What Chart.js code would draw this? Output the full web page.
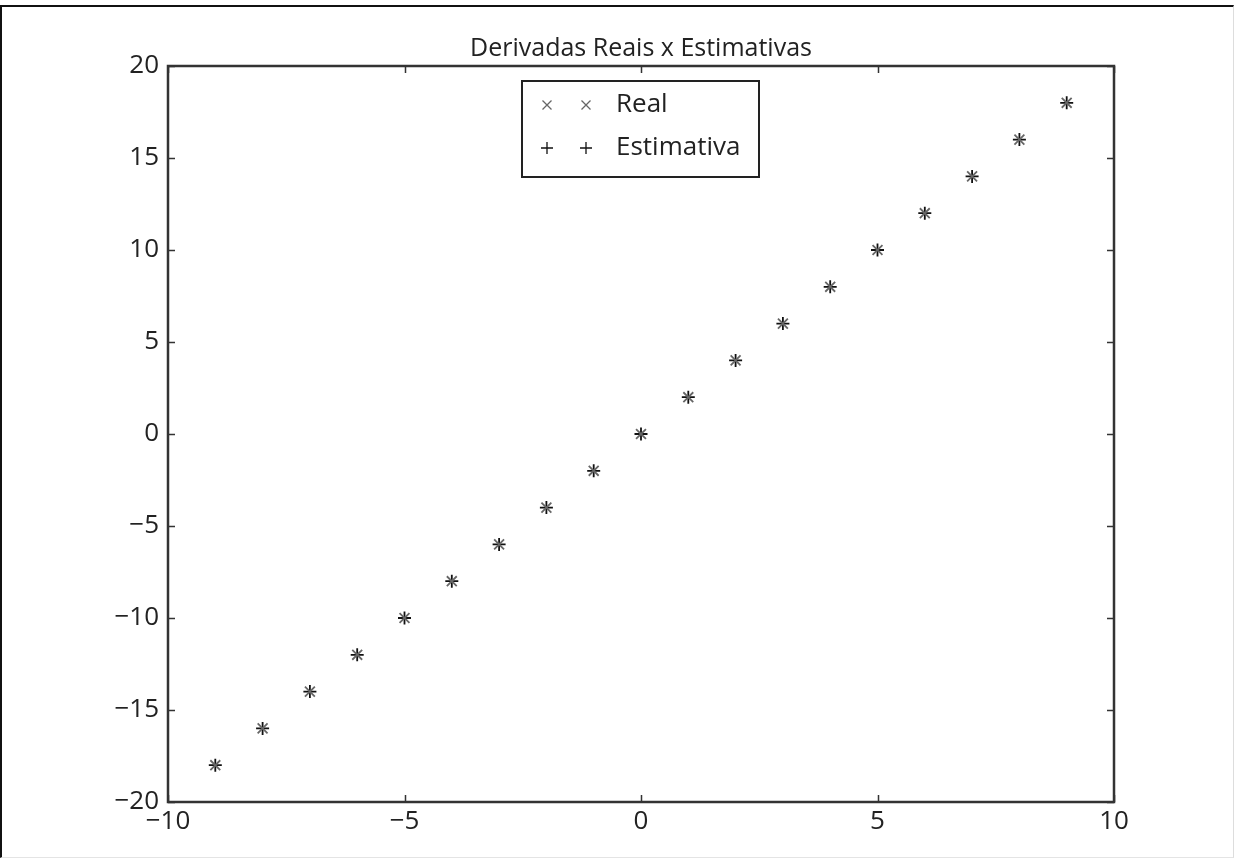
<!DOCTYPE html>
<html>
<head>
<meta charset="utf-8">
<script src="https://cdn.jsdelivr.net/npm/chart.js@4/dist/chart.umd.min.js"></script>
<style>
  html, body { margin: 0; padding: 0; background: #fff; }
  #c { position: absolute; left: 0; top: 0; display: block; }
  #frame { position: absolute; left: 0; top: 5px; width: 1234px; height: 853px; box-sizing: border-box;
           border-top: 2px solid #111; border-left: 2px solid #111; border-right: 1px solid #ddd; border-bottom: 1px solid #e4e4e4;
           pointer-events: none; }
</style>
</head>
<body>
<canvas id="c" width="1234" height="858"></canvas>
<div id="frame"></div>
<script>
const titleText = "Derivadas Reais x Estimativas";
const xValues = [-9, -8, -7, -6, -5, -4, -3, -2, -1, 0, 1, 2, 3, 4, 5, 6, 7, 8, 9];
const realValues = [-18, -16, -14, -12, -10, -8, -6, -4, -2, 0, 2, 4, 6, 8, 10, 12, 14, 16, 18];
const estimativaValues = [-18, -16, -14, -12, -10, -8, -6, -4, -2, 0, 2, 4, 6, 8, 10, 12, 14, 16, 18];
const seriesNames = ["Real", "Estimativa"];
const xTicks = [-10, -5, 0, 5, 10];
const yTicks = [-20, -15, -10, -5, 0, 5, 10, 15, 20];

const FONT = "'Open Sans', 'Noto Sans', sans-serif";
const AXIS = '#333';

const toPts = (xs, ys) => xs.map((x, i) => ({ x: x, y: ys[i] }));
const fmt = v => String(v).replace('-', '\u2212');

const framePlugin = {
  id: 'frame',
  afterDraw(chart) {
    const ctx = chart.ctx, a = chart.chartArea;
    const xs = chart.scales.x, ys = chart.scales.y;
    ctx.save();
    ctx.strokeStyle = AXIS; ctx.lineWidth = 1.5;
    const tl = 7;
    xs.ticks.forEach(t => {
      const px = Math.round(xs.getPixelForValue(t.value)) + 0.5;
      ctx.beginPath();
      ctx.moveTo(px, a.bottom); ctx.lineTo(px, a.bottom - tl);
      ctx.moveTo(px, a.top); ctx.lineTo(px, a.top + tl);
      ctx.stroke();
    });
    ys.ticks.forEach(t => {
      const py = Math.round(ys.getPixelForValue(t.value)) + 0.5;
      ctx.beginPath();
      ctx.moveTo(a.left, py); ctx.lineTo(a.left + tl, py);
      ctx.moveTo(a.right, py); ctx.lineTo(a.right - tl, py);
      ctx.stroke();
    });
    ctx.lineWidth = 2.5; ctx.strokeStyle = AXIS;
    ctx.strokeRect(a.left, a.top, a.right - a.left, a.bottom - a.top);
    // title
    ctx.fillStyle = '#222';
    ctx.font = "25px " + FONT;
    ctx.textAlign = 'center'; ctx.textBaseline = 'alphabetic';
    ctx.fillText(titleText, (a.left + a.right) / 2, a.top - 10);
    // legend
    const lx = 522, ly = 81, lw = 237, lh = 96;
    ctx.fillStyle = '#fff';
    ctx.fillRect(lx, ly, lw, lh);
    ctx.lineWidth = 2; ctx.strokeStyle = '#222';
    ctx.strokeRect(lx, ly, lw, lh);
    chart.data.datasets.forEach((ds, i) => {
      const cy = ly + 24 + i * 43;
      [lx + 25, lx + 64].forEach(mx => {
        ctx.beginPath();
        ctx.strokeStyle = ds.borderColor; ctx.lineWidth = 1.3;
        const r = 6;
        if (ds.pointStyle === 'crossRot') {
          const d = r * 0.75;
          ctx.moveTo(mx - d, cy - d); ctx.lineTo(mx + d, cy + d);
          ctx.moveTo(mx + d, cy - d); ctx.lineTo(mx - d, cy + d);
        } else {
          ctx.moveTo(mx - r, cy); ctx.lineTo(mx + r, cy);
          ctx.moveTo(mx, cy - r); ctx.lineTo(mx, cy + r);
        }
        ctx.stroke();
      });
      ctx.fillStyle = '#222';
      ctx.font = "26px " + FONT;
      ctx.textAlign = 'left'; ctx.textBaseline = 'middle';
      ctx.fillText(ds.label, lx + 94, cy);
    });
    ctx.restore();
  }
};

new Chart(document.getElementById('c'), {
  type: 'scatter',
  data: {
    datasets: [
      { label: seriesNames[0], data: toPts(xValues, realValues), pointStyle: 'crossRot',
        borderColor: '#666', backgroundColor: '#666', pointRadius: 7, pointBorderWidth: 1.8, pointHoverRadius: 7 },
      { label: seriesNames[1], data: toPts(xValues, estimativaValues), pointStyle: 'cross',
        borderColor: '#111', backgroundColor: '#111', pointRadius: 6.5, pointBorderWidth: 1.8, pointHoverRadius: 6.5 }
    ]
  },
  options: {
    responsive: false,
    animation: false,
    events: [],
    layout: { padding: { top: 66, right: 120, bottom: 0, left: 0 } },
    plugins: { legend: { display: false }, title: { display: false }, tooltip: { enabled: false } },
    scales: {
      x: {
        type: 'linear', min: -10, max: 10,
        afterBuildTicks: s => { s.ticks = xTicks.map(v => ({ value: v })); },
        afterFit: s => { s.height = 56; },
        grid: { display: false, drawTicks: false },
        border: { display: false },
        ticks: { color: '#222', font: { family: FONT, size: 26 }, padding: 4, maxRotation: 0,
                 callback: v => fmt(v) }
      },
      y: {
        type: 'linear', min: -20, max: 20,
        afterBuildTicks: s => { s.ticks = yTicks.map(v => ({ value: v })); },
        afterFit: s => { s.width = 168; },
        grid: { display: false, drawTicks: false },
        border: { display: false },
        ticks: { color: '#222', font: { family: FONT, size: 26 }, padding: 9,
                 callback: v => fmt(v) }
      }
    }
  },
  plugins: [framePlugin]
});
</script>
</body>
</html>
